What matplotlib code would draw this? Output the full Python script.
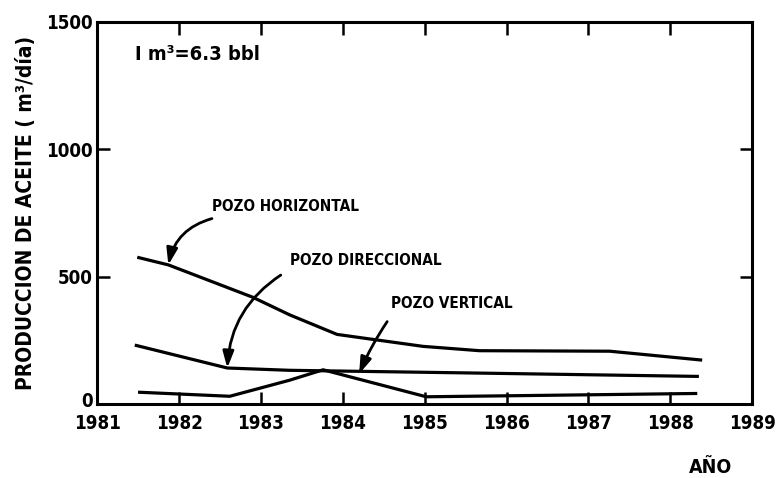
import matplotlib.pyplot as plt
from matplotlib import font_manager
from matplotlib.font_manager import FontProperties
from matplotlib.transforms import ScaledTranslation

# oil production per well type (m3/day)
years_horizontal = [1981.49, 1981.87, 1982.90, 1983.35, 1983.93, 1984.98, 1985.67, 1987.26, 1988.39]
prod_horizontal = [576, 546, 419, 350, 273, 226, 209, 207, 172]

years_directional = [1981.46, 1982.59, 1983.35, 1985.67, 1988.35]
prod_directional = [231, 141, 132, 121, 108]

years_vertical = [1981.50, 1982.62, 1983.35, 1983.76, 1985.02, 1988.33]
prod_vertical = [46, 30, 93, 134, 28, 41]

x_ticks = list(range(1981, 1990))
y_ticks = [0, 500, 1000, 1500]


def narrow_bold():
    """Path of a condensed bold face if one is installed, else None."""
    fonts = font_manager.fontManager.ttflist
    prefs = [("Liberation Sans Narrow", "Narrow"), ("DejaVu Sans", "Condensed")]
    for name, tag in prefs:
        for f in fonts:
            if f.name.startswith(name.split()[0]) and tag in f.fname and "Bold" in f.fname \
                    and "Oblique" not in f.fname and "Italic" not in f.fname:
                return f.fname
    return None


path = narrow_bold()
if path:
    def fp(size):
        return FontProperties(fname=path, size=size)
else:
    def fp(size):
        return FontProperties(family="DejaVu Sans", weight="bold", size=size * 0.85)

fig = plt.figure(figsize=(7.77, 4.78), dpi=100)
ax = fig.add_axes([0.125, 0.155, 0.843, 0.799])

lw = 2.3
for xs, ys in [(years_horizontal, prod_horizontal),
               (years_directional, prod_directional),
               (years_vertical, prod_vertical)]:
    ax.plot(xs, ys, color="black", lw=lw, solid_capstyle="butt")

ax.set_xlim(1981, 1989)
ax.set_ylim(0, 1500)
ax.set_xticks(x_ticks)
ax.set_yticks(y_ticks)
ax.tick_params(direction="in", length=9, width=1.8, top=True, right=True)
ax.tick_params(axis="x", pad=7)
ax.tick_params(axis="y", pad=3)
for lab in ax.get_xticklabels() + ax.get_yticklabels():
    lab.set_fontproperties(fp(13.5))
# nudge the "0" up a few pixels so it clears the first year label
zero = ax.get_yticklabels()[0]
zero.set_transform(zero.get_transform() + ScaledTranslation(0, 3 / 72, fig.dpi_scale_trans))
for s in ax.spines.values():
    s.set_linewidth(2.2)

ax.set_ylabel("PRODUCCION DE ACEITE ( m³/día)", fontproperties=fp(15))
ax.yaxis.set_label_coords(-0.093, 0.5)
fig.text(0.914, 0.021, "AÑO", fontproperties=fp(14), ha="center", va="center")

ax.text(0.058, 0.915, "I m³=6.3 bbl", transform=ax.transAxes,
        fontproperties=fp(14.5), ha="left", va="center")

arrow = dict(arrowstyle="-|>,head_length=0.9,head_width=0.3", color="black", lw=2.0,
             shrinkA=0, shrinkB=0)
ax.annotate("POZO HORIZONTAL", xy=(1981.87, 546), xytext=(1983.30, 775),
            fontproperties=fp(11), ha="center", va="center",
            arrowprops=dict(arrow, connectionstyle="arc3,rad=0.3", relpos=(0.0, -0.3)))
ax.annotate("POZO DIRECCIONAL", xy=(1982.59, 141), xytext=(1984.28, 565),
            fontproperties=fp(11), ha="center", va="center",
            arrowprops=dict(arrow, connectionstyle="arc3,rad=0.25", relpos=(-0.06, -0.5)))
ax.annotate("POZO VERTICAL", xy=(1984.2, 118), xytext=(1985.33, 394),
            fontproperties=fp(11), ha="center", va="center",
            arrowprops=dict(arrow, connectionstyle="arc3,rad=0.05", relpos=(-0.03, -0.7)))

fig.savefig("out.png", dpi=100)
